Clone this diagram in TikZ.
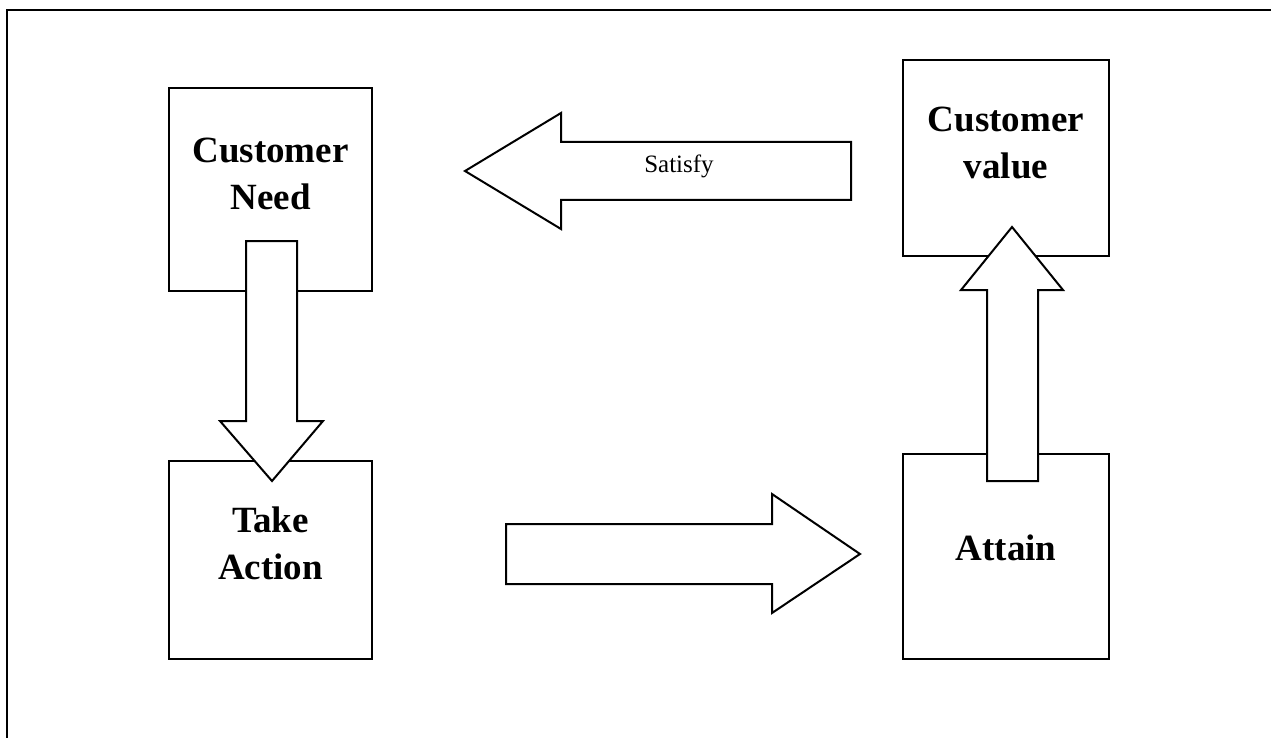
\documentclass[tikz,border=0pt]{standalone}
\usepackage{fontspec}
\setmainfont{Liberation Serif}
\begin{document}
\begin{tikzpicture}[x=1pt,y=-1pt,
  box/.style={draw=black,line width=2pt,fill=white,rectangle,inner sep=0pt},
  btext/.style={font=\fontsize{37}{47}\selectfont\bfseries,align=center,inner sep=0pt},
  blockarrow/.style={draw=black,line width=2pt,fill=white,line join=miter}]
\useasboundingbox (0,0) rectangle (1271,738);
\draw[line width=2.5pt] (7,738) -- (7,10) -- (1271,10);
% boxes
\node[box,minimum width=203pt,minimum height=203pt] (need) at (270.5,189.5) {};
\node[box,minimum width=203pt,minimum height=198pt] (action) at (270.5,560) {};
\node[box,minimum width=206pt,minimum height=196pt] (value) at (1006,158) {};
\node[box,minimum width=206pt,minimum height=205pt] (attain) at (1006,556.5) {};
% texts
\node[btext] (needtxt) at (270.5,173.5) {Customer\\Need};
\node[btext] (actiontxt) at (270.5,543.5) {Take\\Action};
\node[btext] (valuetxt) at (1006,143) {Customer\\value};
\node[btext] (attaintxt) at (1006,548) {Attain};
% block arrows
\draw[blockarrow] (246,241) -- (297,241) -- (297,421) -- (323,421) -- (272,481) -- (220,421) -- (246,421) -- cycle;
\draw[blockarrow] (987,481) -- (1038,481) -- (1038,290) -- (1063,290) -- (1012,227) -- (961,290) -- (987,290) -- cycle;
\draw[blockarrow] (851,142) -- (851,200) -- (561,200) -- (561,229) -- (465,171) -- (561,113) -- (561,142) -- cycle;
\draw[blockarrow] (506,524) -- (772,524) -- (772,494) -- (860,554) -- (772,613) -- (772,584) -- (506,584) -- cycle;
\node[font=\fontsize{25}{30}\selectfont,inner sep=0pt] (satisfy) at (679,166) {Satisfy};
\end{tikzpicture}
\end{document}
